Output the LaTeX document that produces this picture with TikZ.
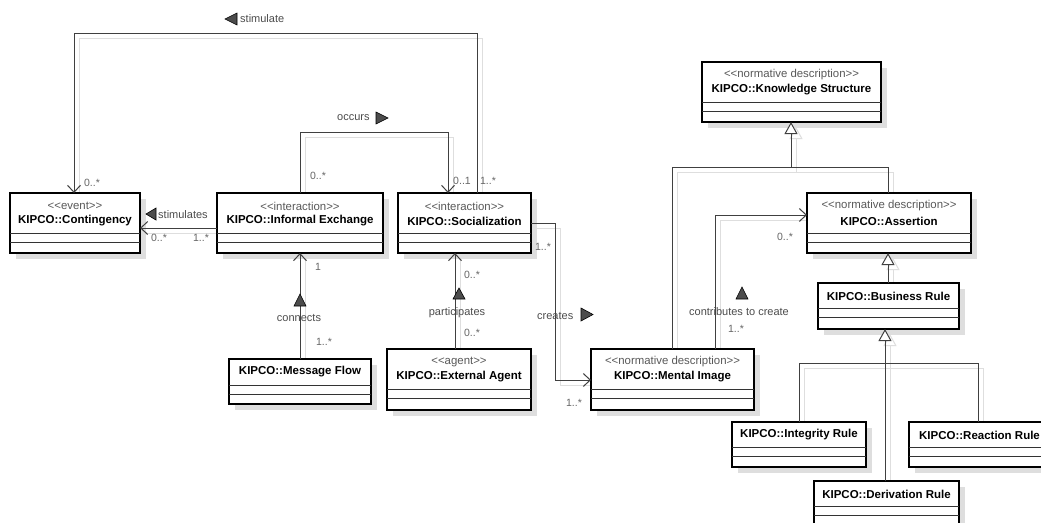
\documentclass[tikz,border=0pt]{standalone}
\usepackage{fontspec}
\setmainfont{Liberation Sans}
\usetikzlibrary{arrows.meta,calc}
\newcommand{\umlopen}{<\kern0pt<}
\newcommand{\umlclose}{>\kern0pt>}
\tikzset{
 classbox/.style={draw=black, line width=1.8pt, fill=white, inner sep=0pt, outer sep=0pt, anchor=north west},
 boxshadow/.style={fill=black!13},
 sepline/.style={draw=black!80, line width=1pt},
 conn/.style={draw=black!75, line width=1pt},
 connshadow/.style={draw=black!13, line width=1pt},
 openarrow/.style={-{Straight Barb[length=7pt,width=13pt,line width=1pt]}},
 genarrow/.style={-{Triangle[open,length=12pt,width=13pt,fill=white,line width=1pt]}},
 stereo/.style={font=\fontsize{11.4}{13}\selectfont, text=black!65, inner sep=0pt},
 cname/.style={font=\fontsize{11.5}{13}\selectfont\bfseries, text=black, inner sep=0pt},
 lbl/.style={font=\fontsize{11}{13}\selectfont, text=black!70, inner sep=0pt},
 mult/.style={font=\fontsize{10.5}{12}\selectfont, text=black!60, inner sep=0pt},
 dirmark/.style={fill=black!70, draw=black, line width=0.6pt, line join=miter},
}
% #1 name, #2 x, #3 y, #4 w, #5 h, #6 first separator offset, #7 stereotype, #8 title
\newcommand{\umlclass}[8]{%
 \fill[boxshadow] (#2+6,#3+6) rectangle ++(#4,#5);
 \node[classbox, minimum width=#4pt, minimum height=#5pt] (#1) at (#2,#3) {};
 \draw[sepline] ($(#1.north west)+(0,#6)$) -- ($(#1.north east)+(0,#6)$);
 \draw[sepline] ($(#1.north west)+(0,#6+9)$) -- ($(#1.north east)+(0,#6+9)$);
 \if\relax\detokenize{#7}\relax
   \node[cname] (#1-t) at ($(#1.north)+(0,13)$) {#8};
 \else
   \node[stereo] (#1-s) at ($(#1.north)+(0,13)$) {#7};
   \node[cname] (#1-t) at ($(#1.north)+(0,28)$) {#8};
 \fi
}
\begin{document}
\begin{tikzpicture}[x=1pt,y=-1pt]
\useasboundingbox (0,0) rectangle (1041,522);
\clip (0,0) rectangle (1041,522);
\fill[white] (0,0) rectangle (1041,522);

% connector shadows
\begin{scope}[connshadow]
 \draw (482,198) -- (482,38) -- (79,38) -- (79,198);
 \draw (305,198) -- (305,137) -- (453,137) -- (453,198);
 \draw (222,233) -- (145,233);
 \draw (305,364) -- (305,258);
 \draw (460,354) -- (460,258);
 \draw (536,228) -- (560,228) -- (560,385) -- (596,385);
 \draw (720,354) -- (720,220) -- (812,220);
 \draw (677,354) -- (677,172) -- (893,172) -- (893,198);
 \draw[genarrow] (796,172) -- (796,127);
 \draw[genarrow] (893,288) -- (893,258);
 \draw (804,427) -- (804,368) -- (983,368) -- (983,427);
 \draw[genarrow] (890,486) -- (890,334);
\end{scope}

% classes
\umlclass{cont}{10}{193}{130}{60}{40}{\umlopen event\umlclose}{KIPCO::Contingency}
\umlclass{ie}{217}{193}{166}{60}{40}{\umlopen interaction\umlclose}{KIPCO::Informal Exchange}
\umlclass{soc}{398}{193}{133}{60}{40}{\umlopen interaction\umlclose}{KIPCO::Socialization}
\umlclass{mf}{229}{359}{142}{45}{26}{}{KIPCO::Message Flow}
\umlclass{ea}{387}{349}{144}{61}{40}{\umlopen agent\umlclose}{KIPCO::External Agent}
\umlclass{mi}{591}{349}{163}{61}{40}{\umlopen normative description\umlclose}{KIPCO::Mental Image}
\umlclass{ks}{702}{62}{179}{60}{40}{\umlopen normative description\umlclose}{KIPCO::Knowledge Structure}
\umlclass{as}{807}{193}{164}{60}{40}{\umlopen normative description\umlclose}{KIPCO::Assertion}
\umlclass{br}{818}{283}{141}{46}{25}{}{KIPCO::Business Rule}
\umlclass{ir}{732}{422}{134}{45}{25}{}{KIPCO::Integrity Rule}
\umlclass{rr}{909}{422}{141}{45}{25}{}{KIPCO::Reaction Rule}
\umlclass{dr}{814}{481}{145}{45}{25}{}{KIPCO::Derivation Rule}

% connectors
\coordinate (stimA) at (477,33);
\coordinate (occA) at (300,132);
\coordinate (creA) at (555,223);
\coordinate (genA) at (791,167);
\coordinate (genB) at (885,363);

\draw[conn, openarrow] ($(soc.north west)+(79,0)$) |- (stimA) -| ($(cont.north west)+(64,0)$);
\draw[conn, openarrow] ($(ie.north west)+(83,0)$) -- (occA) -| ($(soc.north west)+(50,0)$);
\draw[conn, openarrow] ($(ie.north west)+(0,35)$) -- ($(cont.north east)+(0,35)$);
\draw[conn, openarrow] ($(mf.north west)+(71,0)$) -- ($(ie.south west)+(83,0)$);
\draw[conn, openarrow] ($(ea.north west)+(68,0)$) -- ($(soc.south west)+(57,0)$);
\draw[conn, openarrow] ($(soc.north east)+(0,30)$) -- (creA) |- ($(mi.north west)+(0,31)$);
\draw[conn, openarrow] ($(mi.north west)+(124,0)$) |- ($(as.north west)+(0,22)$);
\draw[conn] ($(mi.north west)+(81,0)$) |- (genA);
\draw[conn] ($(as.north west)+(81,0)$) |- (genA);
\draw[conn, genarrow] (genA) -- ($(ks.south west)+(89,0)$);
\draw[conn, genarrow] ($(br.north west)+(70,0)$) -- ($(as.south west)+(81,0)$);
\draw[conn] ($(ir.north west)+(67,0)$) |- (genB);
\draw[conn] ($(rr.north west)+(69,0)$) |- (genB);
\draw[conn, genarrow] ($(dr.north west)+(71,0)$) -- ($(br.south west)+(67,0)$);

% association labels and direction marks
\filldraw[dirmark] (225,19) -- (237,13) -- (237,25) -- cycle;
\node[lbl, anchor=west] (l-stim) at (240,19) {stimulate};
\node[lbl, anchor=west] (l-occ) at (337,118) {occurs};
\filldraw[dirmark] (376,112) -- (388,118) -- (376,124) -- cycle;
\filldraw[dirmark] (146,214) -- (156,208) -- (156,220) -- cycle;
\node[lbl, anchor=west] (l-stims) at (158,215) {stimulates};
\filldraw[dirmark] (294,306) -- (300,294) -- (306,306) -- cycle;
\node[lbl] (l-con) at (299,318) {connects};
\filldraw[dirmark] (453,299) -- (459,288) -- (465,299) -- cycle;
\node[lbl] (l-par) at (457,313) {participates};
\node[lbl, anchor=west] (l-cre) at (537,316) {creates};
\filldraw[dirmark] (581,308) -- (593,314.5) -- (581,321) -- cycle;
\filldraw[dirmark] (736,299) -- (742,287) -- (748,299) -- cycle;
\node[lbl] (l-ctc) at (739,312) {contributes to create};

% multiplicities
\node[mult] (m1) at (92,183) {0..*};
\node[mult] (m2) at (488,181) {1..*};
\node[mult] (m3) at (318,176) {0..*};
\node[mult] (m4) at (462,181) {0..1};
\node[mult] (m5) at (159,238) {0..*};
\node[mult] (m6) at (201,238) {1..*};
\node[mult] (m7) at (318,267) {1};
\node[mult] (m8) at (324,342) {1..*};
\node[mult] (m9) at (472,275) {0..*};
\node[mult] (m10) at (472,333) {0..*};
\node[mult] (m11) at (543,247) {1..*};
\node[mult] (m12) at (574,403) {1..*};
\node[mult] (m13) at (736,329) {1..*};
\node[mult] (m14) at (785,237) {0..*};
\end{tikzpicture}
\end{document}
